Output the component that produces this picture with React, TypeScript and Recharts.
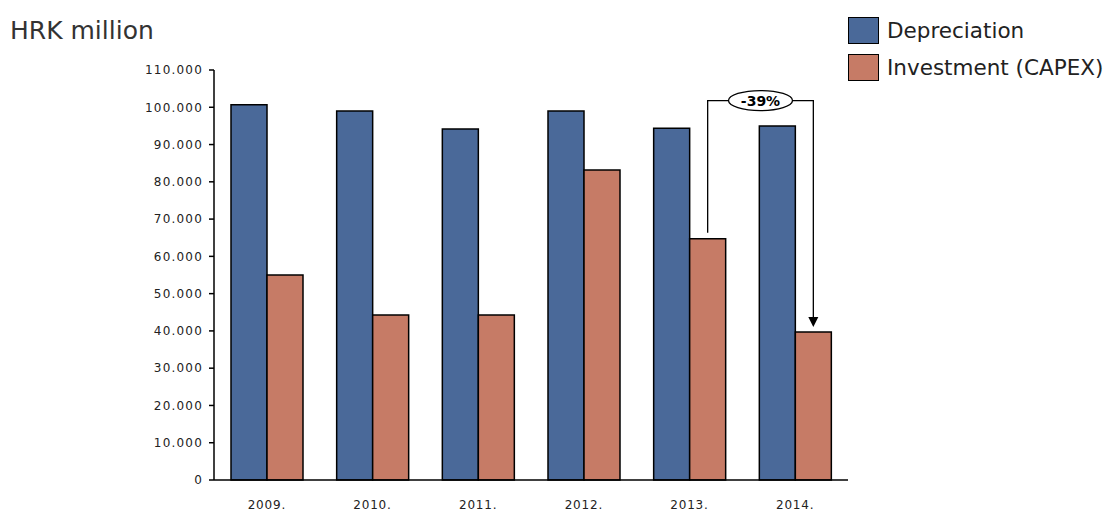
import React from 'react';
import { BarChart, Bar, XAxis, YAxis, LabelList } from 'recharts';

const years = ['2009.', '2010.', '2011.', '2012.', '2013.', '2014.'];
const depreciation = [100700, 99000, 94200, 99000, 94400, 95000];
const capex = [55000, 44300, 44300, 83200, 64700, 39700];
const yTicks = [0, 10000, 20000, 30000, 40000, 50000, 60000, 70000, 80000, 90000, 100000, 110000];
const seriesNames = ['Depreciation', 'Investment (CAPEX)'];
const changeText = '-39%';
const changeLevel = 101800;

const BLUE = '#4A6999';
const ORANGE = '#C67B66';
const FONT = '"DejaVu Sans", Verdana, sans-serif';

const data = years.map((year, i) => ({
  year,
  depreciation: depreciation[i],
  capex: capex[i],
}));

const fmt = (v: number) => (v === 0 ? '0' : v.toLocaleString('de-DE'));

// bar positions collected while the capex labels render (index order)
const capexPos: Record<number, { cx: number; top: number; base: number; ratio: number }> = {};

const renderChange = (props: any) => {
  const { x, y, width, height, value, index } = props;
  const base = y + height;
  capexPos[index] = { cx: x + width / 2, top: y, base, ratio: height / value };
  if (index !== 5 || !capexPos[4]) return null;
  const a = capexPos[4];
  const b = capexPos[5];
  const lineY = b.base - changeLevel * b.ratio;
  const midX = (a.cx + b.cx) / 2;
  return (
    <g>
      <path
        d={`M${a.cx},${a.top - 6} L${a.cx},${lineY} L${b.cx},${lineY} L${b.cx},${b.top - 14}`}
        fill="none"
        stroke="#000"
        strokeWidth={1.3}
      />
      <path d={`M${b.cx - 5},${b.top - 15} L${b.cx + 5},${b.top - 15} L${b.cx},${b.top - 5} Z`} fill="#000" />
      <ellipse cx={midX} cy={lineY} rx={32} ry={10} fill="#fff" stroke="#000" strokeWidth={1.3} />
      <text
        x={midX}
        y={lineY + 5}
        textAnchor="middle"
        fontFamily={FONT}
        fontSize={14}
        fontWeight="bold"
        fill="#000"
      >
        {changeText}
      </text>
    </g>
  );
};

export default function App() {
  return (
    <div style={{ position: 'absolute', left: 0, top: 0, width: 1110, height: 514, background: '#fff' }}>
      <div
        style={{
          position: 'absolute',
          left: 10,
          top: 16,
          fontFamily: FONT,
          fontSize: 25,
          color: '#333',
        }}
      >
        HRK million
      </div>
      <div
        style={{
          position: 'absolute',
          left: 848,
          top: 12,
          fontFamily: FONT,
          fontSize: 21.5,
          color: '#222',
        }}
      >
        {seriesNames.map((name, i) => (
          <div key={name} style={{ display: 'flex', alignItems: 'center', height: 37 }}>
            <span
              style={{
                display: 'inline-block',
                width: 29,
                height: 25,
                background: i === 0 ? BLUE : ORANGE,
                border: '1.5px solid #000',
                marginRight: 8,
              }}
            />
            <span>{name}</span>
          </div>
        ))}
      </div>
      <BarChart
        width={1110}
        height={514}
        data={data}
        margin={{ top: 70, right: 262, bottom: 0, left: 0 }}
        barCategoryGap={17}
        barGap={0}
      >
        <XAxis
          dataKey="year"
          height={34}
          axisLine={{ stroke: '#000', strokeWidth: 1.5 }}
          tickLine={false}
          tickMargin={14}
          tick={{ fill: '#222', fontSize: 12, fontFamily: FONT, letterSpacing: 0.8 }}
        />
        <YAxis
          width={214}
          domain={[0, 110000]}
          ticks={yTicks}
          tickFormatter={fmt}
          axisLine={{ stroke: '#000', strokeWidth: 1.5 }}
          tickLine={{ stroke: '#000', strokeWidth: 1.5 }}
          tickSize={5}
          tickMargin={6}
          tick={{ fill: '#222', fontSize: 12, fontFamily: FONT, letterSpacing: 1.2 }}
        />
        <Bar dataKey="depreciation" name={seriesNames[0]} fill={BLUE} stroke="#000" strokeWidth={1.5} isAnimationActive={false} />
        <Bar dataKey="capex" name={seriesNames[1]} fill={ORANGE} stroke="#000" strokeWidth={1.5} isAnimationActive={false}>
          <LabelList dataKey="capex" content={renderChange} />
        </Bar>
      </BarChart>
    </div>
  );
}
